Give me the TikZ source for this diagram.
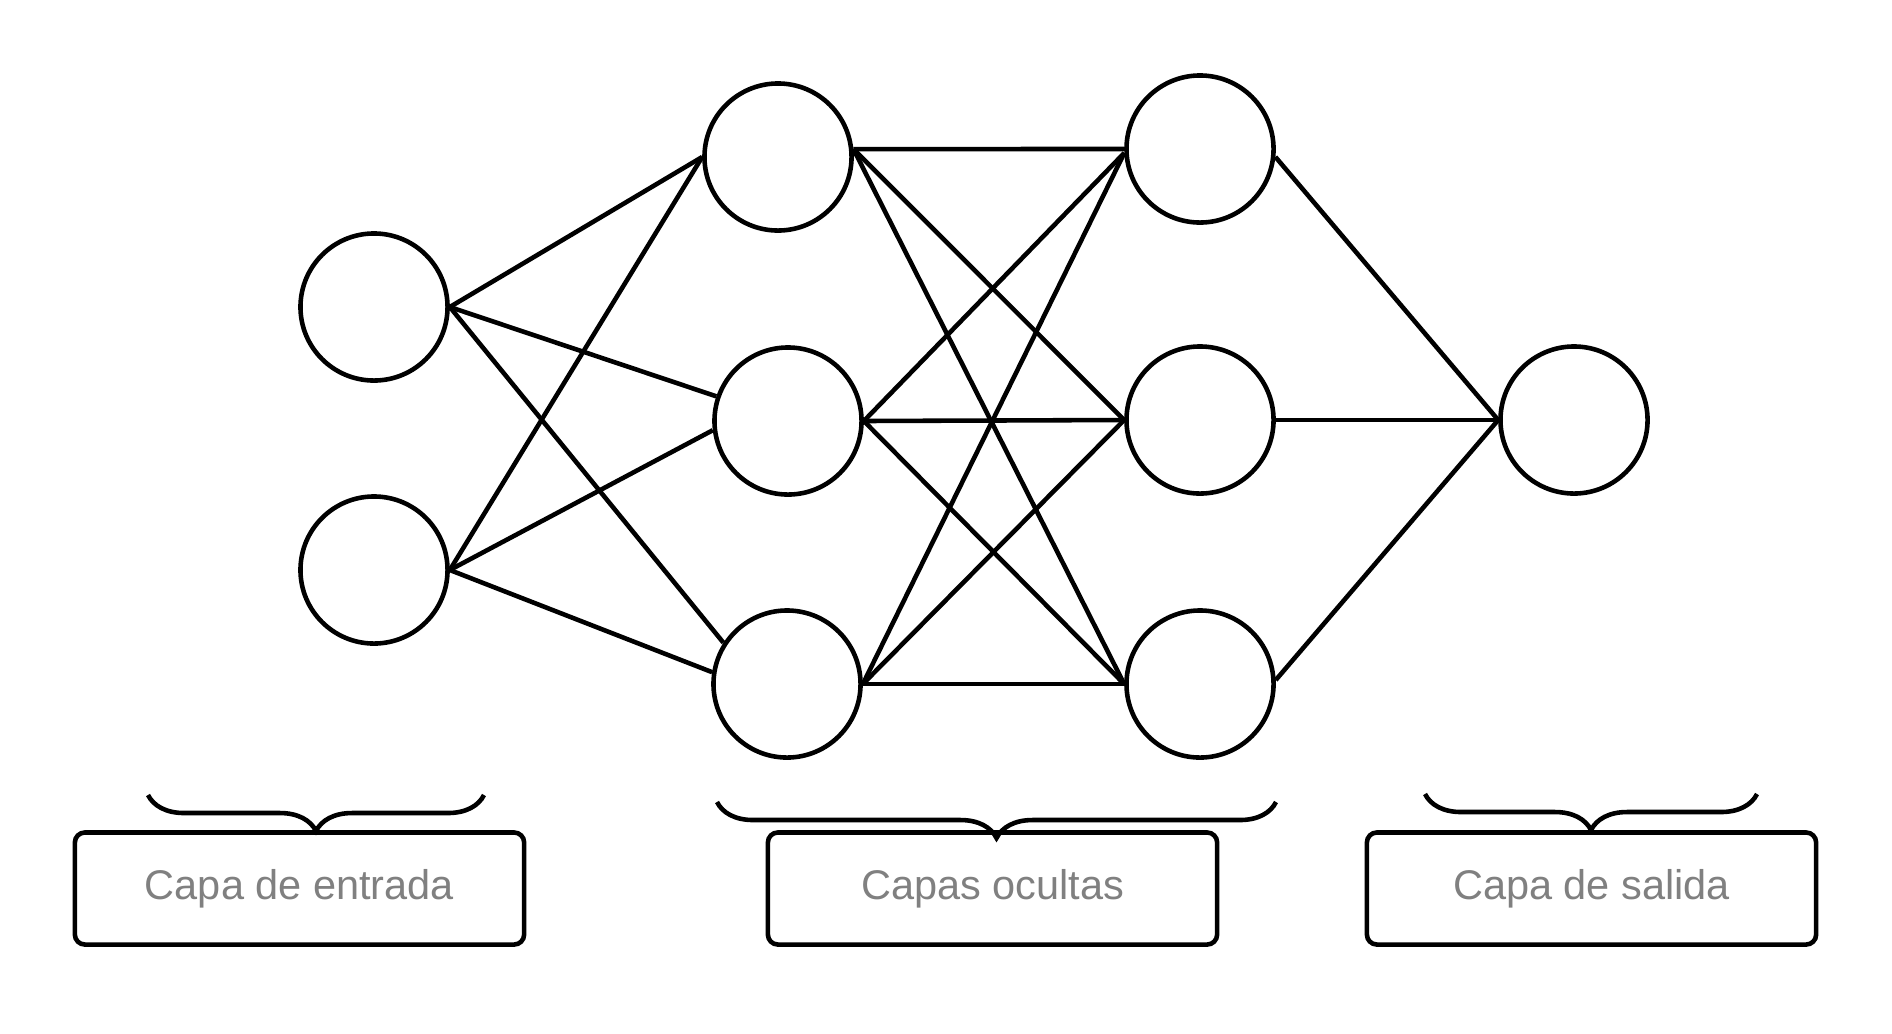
\documentclass[tikz,border=0pt]{standalone}
\usepackage{fontspec}
\setmainfont{Liberation Sans}
\usetikzlibrary{decorations.pathreplacing}

\begin{document}
\begin{tikzpicture}[x=0.01cm, y=-0.01cm, line width=1.3pt,
    neuron/.style={circle, draw, minimum size=1.47cm, inner sep=0pt},
    layerbox/.style={draw, rounded corners=0.1cm, minimum width=4.49cm,
      minimum height=1.12cm, inner sep=0pt, text=black!50,
      font=\fontsize{11.8}{14}\selectfont},
    layerbrace/.style={decorate, decoration={brace, mirror, amplitude=0.36cm}}]
    \useasboundingbox (0,0) rectangle (1892,1033);

    % Input layer
    \node[neuron] (in1) at (374,307) {};
    \node[neuron] (in2) at (374,570) {};

    % Hidden layers
    \node[neuron] (h11) at (778,157) {};
    \node[neuron] (h12) at (788,421) {};
    \node[neuron] (h13) at (787,684) {};
    \node[neuron] (h21) at (1200,149) {};
    \node[neuron] (h22) at (1200,420) {};
    \node[neuron] (h23) at (1200,684) {};

    % Output layer
    \node[neuron] (out) at (1574,420) {};

    % Input -> first hidden
    \draw (in1.east) -- (h11.west);
    \draw (in1.east) -- (h12.161);
    \draw (in1.east) -- (h13.147);
    \draw (in2.east) -- (h11.west);
    \draw (in2.east) -- (h12.187);
    \draw (in2.east) -- (h13.171);

    % First hidden -> second hidden
    \draw (h11.6) -- (h21.west);
    \draw (h11.6) -- (h22.west);
    \draw (h11.6) -- (h23.west);
    \draw (h12.east) -- (h21.183);
    \draw (h12.east) -- (h22.west);
    \draw (h12.east) -- (h23.west);
    \draw (h13.east) -- (h21.183);
    \draw (h13.east) -- (h22.west);
    \draw (h13.east) -- (h23.west);

    % Second hidden -> output
    \draw (h21.-6) -- (out.west);
    \draw (h22.east) -- (out.west);
    \draw (h23.3) -- (out.west);

    % Labels
    \node[layerbox] (lin) at (299.5,888.5) {Capa de entrada};
    \node[layerbox] (lhid) at (992.5,888.5) {Capas ocultas};
    \node[layerbox] (lout) at (1591.5,888.5) {Capa de salida};
    \draw[layerbrace] (148,795) -- (484,795);
    \draw[layerbrace] (717,802) -- (1276,802);
    \draw[layerbrace] (1425,794) -- (1757,794);
\end{tikzpicture}
\end{document}
